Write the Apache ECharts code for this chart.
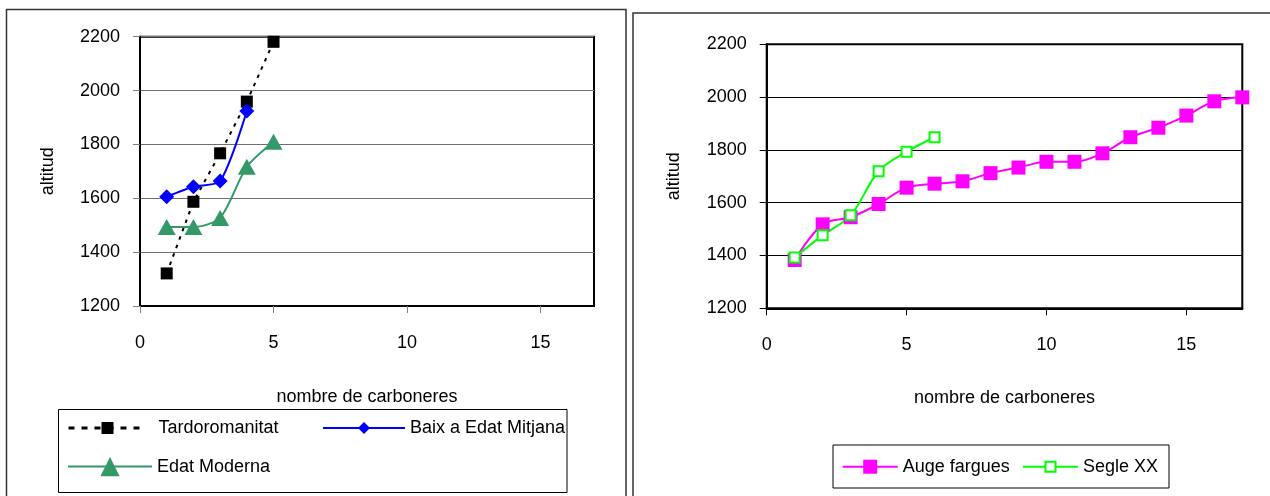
<!DOCTYPE html>
<html>
<head>
<meta charset="utf-8">
<script src="https://cdn.jsdelivr.net/npm/echarts@6/dist/echarts.min.js"></script>
<style>
html,body{margin:0;padding:0;background:#fff;}
#chart{width:1270px;height:496px;}
</style>
</head>
<body>
<div id="chart"></div>
<script>
// ---- data ----
const xTickValues = [0, 5, 10, 15];
const yMin = 1200, yMax = 2200, yStep = 200;
const xMin = 0, xMax = 17;

const tardoX = [1, 2, 3, 4, 5];
const tardoY = [1321, 1587, 1767, 1959, 2181];
const baixX = [1, 2, 3, 4];
const baixY = [1606, 1643, 1664, 1924];
const modernaX = [1, 2, 3, 4, 5];
const modernaY = [1493, 1493, 1527, 1717, 1810];

const augeX = [1, 2, 3, 4, 5, 6, 7, 8, 9, 10, 11, 12, 13, 14, 15, 16, 17];
const augeY = [1383, 1518, 1545, 1595, 1657, 1672, 1681, 1712, 1733, 1755, 1755, 1787, 1848, 1884, 1930, 1984, 1999];
const segleX = [1, 2, 3, 4, 5, 6];
const segleY = [1392, 1477, 1552, 1719, 1793, 1848];

const xName = 'nombre de carboneres';
const yName = 'altitud';
const names = ['Tardoromanitat', 'Baix a Edat Mitjana', 'Edat Moderna', 'Auge fargues', 'Segle XX'];

function pairs(xs, ys) { return xs.map((x, i) => [x, ys[i]]); }

const FONT = "'Liberation Sans', Arial, sans-serif";
const FS = 18;

function xAxisCfg(grid, tickColor, nameGap, margin) {
  return {
    gridIndex: grid, type: 'value', min: xMin, max: xMax, interval: 5,
    name: xName, nameLocation: 'middle', nameGap: nameGap,
    nameTextStyle: { fontSize: FS, color: '#000', fontFamily: FONT },
    axisLine: { onZero: false, lineStyle: { color: '#000', width: 2 } },
    axisTick: { show: true, length: 7, customValues: xTickValues, lineStyle: { color: tickColor, width: 1 } },
    axisLabel: { customValues: xTickValues, fontSize: FS, color: '#000', margin: margin, fontFamily: FONT,
      formatter: v => String(v) },
    splitLine: { show: false }
  };
}
function yAxisCfg(grid, gridColor, tickColor, nameGap) {
  return {
    gridIndex: grid, type: 'value', min: yMin, max: yMax, interval: yStep,
    name: yName, nameLocation: 'middle', nameGap: nameGap, nameRotate: 90,
    nameTextStyle: { fontSize: FS, color: '#000', fontFamily: FONT },
    axisLine: { show: true, onZero: false, lineStyle: { color: '#000', width: 2 } },
    axisTick: { show: true, length: 7, lineStyle: { color: tickColor, width: 1 } },
    axisLabel: { fontSize: FS, color: '#000', margin: 20, fontFamily: FONT,
      formatter: v => String(v) },
    splitLine: { show: true, lineStyle: { color: gridColor, width: 1 } }
  };
}
function legendCfg(name, left, top, itemWidth, itemHeight, extra) {
  return Object.assign({
    data: [name], left: left, top: top, padding: 0,
    itemWidth: itemWidth, itemHeight: itemHeight,
    selectedMode: false,
    textStyle: { fontSize: FS, color: '#000', fontFamily: FONT }
  }, extra || {});
}

const chart = echarts.init(document.getElementById('chart'), null, { renderer: 'canvas' });
const option = {
  animation: false,
  backgroundColor: '#fff',
  textStyle: { fontFamily: FONT },
  grid: [
    { left: 140, top: 36.7, width: 454, height: 269.3, show: true, borderColor: '#000', borderWidth: 2, backgroundColor: 'transparent' },
    { left: 766.7, top: 44.3, width: 475.6, height: 264, show: true, borderColor: '#000', borderWidth: 2, backgroundColor: 'transparent' }
  ],
  xAxis: [xAxisCfg(0, '#808080', 82, 28), xAxisCfg(1, '#000', 81, 28)],
  yAxis: [yAxisCfg(0, '#707070', '#808080', 83), yAxisCfg(1, '#000', '#000', 84)],
  legend: [
    legendCfg(names[0], 67, 419, 78, 15, { lineStyle: { width: 3, type: [6, 7] }, textStyle: { fontSize: FS, color: '#000', fontFamily: FONT, padding: [0, 0, 0, 7] } }),
    legendCfg(names[1], 322, 419, 82, 15),
    legendCfg(names[2], 67, 457, 84, 24),
    legendCfg(names[3], 841.7, 457.7, 55, 17.5),
    legendCfg(names[4], 1022, 457.7, 55, 12.5)
  ],
  graphic: [
    { type: 'rect', z: -10, silent: true, shape: { x: 6.5, y: 9.5, width: 619.5, height: 530 }, style: { fill: 'none', stroke: '#333', lineWidth: 1.5 } },
    { type: 'rect', z: -10, silent: true, shape: { x: 633, y: 13, width: 700, height: 530 }, style: { fill: 'none', stroke: '#333', lineWidth: 1.5 } },
    { type: 'rect', z: -10, silent: true, shape: { x: 58.5, y: 409.5, width: 508.5, height: 83 }, style: { fill: 'none', stroke: '#000', lineWidth: 1 } },
    { type: 'rect', z: -10, silent: true, shape: { x: 833, y: 445, width: 336, height: 43 }, style: { fill: 'none', stroke: '#000', lineWidth: 1 } }
  ],
  series: [
    {
      name: names[0], type: 'line', xAxisIndex: 0, yAxisIndex: 0, clip: false,
      data: pairs(tardoX, tardoY),
      symbol: 'rect', symbolSize: 12,
      lineStyle: { color: '#000', width: 2, type: [3.5, 5.5] },
      itemStyle: { color: '#000', borderWidth: 0 }
    },
    {
      name: names[1], type: 'line', xAxisIndex: 0, yAxisIndex: 0, clip: false,
      data: pairs(baixX, baixY), smooth: 0.25,
      symbol: 'diamond', symbolSize: 15,
      lineStyle: { color: '#0000ff', width: 2 },
      itemStyle: { color: '#0000ff', borderWidth: 0 }
    },
    {
      name: names[2], type: 'line', xAxisIndex: 0, yAxisIndex: 0, clip: false,
      data: pairs(modernaX, modernaY), smooth: 0.25,
      symbol: 'triangle', symbolSize: [18, 16],
      lineStyle: { color: '#339966', width: 2 },
      itemStyle: { color: '#339966', borderWidth: 0 }
    },
    {
      name: names[3], type: 'line', xAxisIndex: 1, yAxisIndex: 1, clip: false,
      data: pairs(augeX, augeY), smooth: 0.35,
      symbol: 'rect', symbolSize: 14,
      lineStyle: { color: '#ff00ff', width: 2 },
      itemStyle: { color: '#ff00ff', borderWidth: 0 }
    },
    {
      name: names[4], type: 'line', xAxisIndex: 1, yAxisIndex: 1, clip: false,
      data: pairs(segleX, segleY), smooth: 0.35,
      symbol: 'emptyRect', symbolSize: 10,
      lineStyle: { color: '#00ff00', width: 2 },
      itemStyle: { color: '#00ff00', borderColor: '#00ff00', borderWidth: 2 }
    }
  ]
};
chart.setOption(option);
</script>
</body>
</html>
